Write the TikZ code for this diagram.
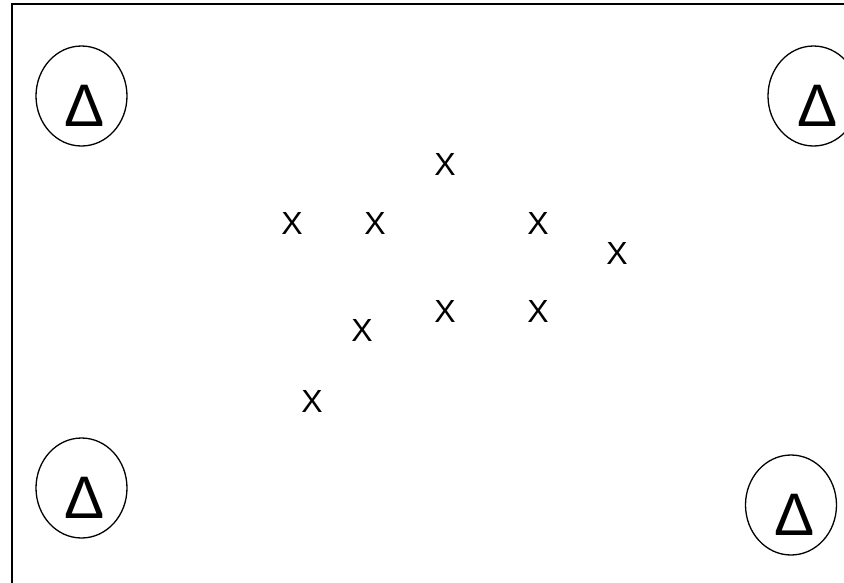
\documentclass[tikz,border=0pt]{standalone}
\usepackage{fontspec}
\setmainfont{Liberation Sans}
\usetikzlibrary{shapes.geometric}
\begin{document}
\begin{tikzpicture}[x=1pt,y=-1pt,
  ring/.style={draw, ellipse, line width=1.3pt, minimum width=91pt, minimum height=100pt, inner sep=0pt},
  delta/.style={inner sep=0pt, font=\fontsize{60}{60}\selectfont},
  cross/.style={inner sep=0pt, font=\fontsize{32}{32}\selectfont}]
\clip (0,0) rectangle (844,582);
\fill[white] (0,0) rectangle (844,582);
\draw[line width=1.8pt] (12,4) rectangle (860,600);
% circles
\node[ring] (c1) at (81.5,96) {};
\node[ring] (c2) at (813.5,96) {};
\node[ring] (c3) at (81.5,488) {};
\node[ring] (c4) at (791,505) {};
\node[delta] (d1) at (85,105.5) {Δ};
\node[delta] (d2) at (817.5,105.5) {Δ};
\node[delta] (d3) at (85,497.5) {Δ};
\node[delta] (d4) at (795,514.5) {Δ};
% crosses
\node[cross] (x1) at (445,164.5) {X};
\node[cross] (x2) at (292,223) {X};
\node[cross] (x3) at (375,223) {X};
\node[cross] (x4) at (538,223) {X};
\node[cross] (x5) at (617,253.5) {X};
\node[cross] (x6) at (445,311.5) {X};
\node[cross] (x7) at (538,311.5) {X};
\node[cross] (x8) at (362,330.5) {X};
\node[cross] (x9) at (312,401.5) {X};
\end{tikzpicture}
\end{document}
